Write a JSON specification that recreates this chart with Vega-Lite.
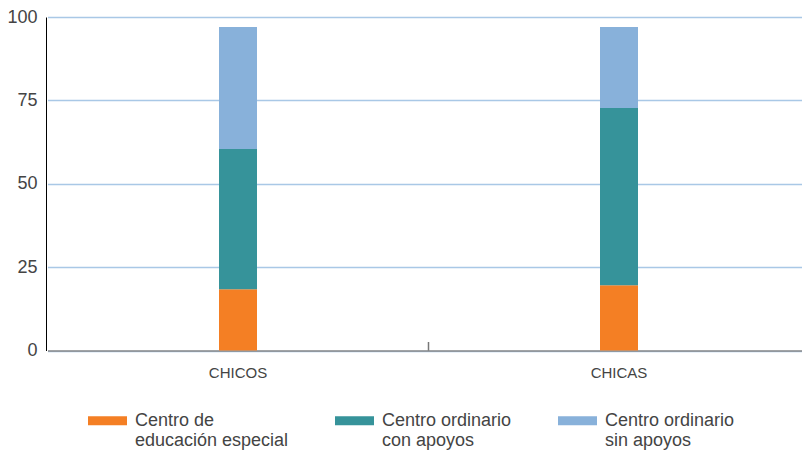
{
  "$schema": "https://vega.github.io/schema/vega-lite/v6.json",
  "autosize": {"type": "none"},
  "width": 754,
  "height": 333.5,
  "padding": {"left": 46, "top": 17, "right": 2, "bottom": 99.5},
  "config": {
    "view": {"stroke": null},
    "font": "Liberation Sans",
    "axis": {"labelColor": "#444444", "labelFont": "Liberation Sans"},
    "legend": {"labelColor": "#444444", "labelFont": "Liberation Sans"}
  },
  "data": {
    "values": [
      {"grupo": "CHICOS", "centro": "Centro de educación especial", "valor": 18.4},
      {"grupo": "CHICOS", "centro": "Centro ordinario con apoyos", "valor": 42.0},
      {"grupo": "CHICOS", "centro": "Centro ordinario sin apoyos", "valor": 36.6},
      {"grupo": "CHICAS", "centro": "Centro de educación especial", "valor": 19.6},
      {"grupo": "CHICAS", "centro": "Centro ordinario con apoyos", "valor": 53.1},
      {"grupo": "CHICAS", "centro": "Centro ordinario sin apoyos", "valor": 24.3}
    ]
  },
  "mark": {"type": "bar", "width": 38},
  "encoding": {
    "x": {
      "field": "grupo",
      "type": "nominal",
      "sort": ["CHICOS", "CHICAS"],
      "scale": {"range": [1.5, 763.5], "paddingInner": 0, "paddingOuter": 0},
      "axis": {
        "title": null,
        "labelAngle": 0,
        "labelFontSize": 15,
        "bandPosition": 0,
        "tickSize": -9,
        "tickWidth": 1.5,
        "tickColor": {"condition": {"test": "datum.value === 'CHICAS'", "value": "#777777"}, "value": "transparent"},
        "labelPadding": 24,
        "domainColor": "#888888",
        "domainWidth": 1.5
      }
    },
    "y": {
      "field": "valor",
      "type": "quantitative",
      "stack": "zero",
      "scale": {"domain": [0, 100], "nice": false},
      "axis": {
        "title": null,
        "values": [0, 25, 50, 75, 100],
        "ticks": false,
        "labelFontSize": 18,
        "labelPadding": 9,
        "domainColor": "#000000",
        "domainWidth": 1,
        "gridColor": "#a9c8e6",
        "gridWidth": 1.5
      }
    },
    "order": {"field": "centro", "sort": "ascending"},
    "color": {
      "field": "centro",
      "type": "nominal",
      "scale": {
        "domain": ["Centro de educación especial", "Centro ordinario con apoyos", "Centro ordinario sin apoyos"],
        "range": ["#f47f24", "#36939a", "#88b1da"]
      },
      "legend": {
        "title": null,
        "orient": "none",
        "direction": "horizontal",
        "legendX": 42,
        "legendY": 384,
        "padding": 0,
        "columnPadding": 46,
        "symbolType": "M-1,-0.23H1V0.23H-1Z",
        "symbolSize": 1521,
        "symbolStrokeWidth": 0,
        "symbolOpacity": 1,
        "labelFontSize": 18,
        "labelOffset": 8,
        "labelBaseline": "middle",
        "labelLimit": 300,
        "labelExpr": "datum.label == 'Centro de educación especial' ? ['Centro de', 'educación especial'] : datum.label == 'Centro ordinario con apoyos' ? ['Centro ordinario', 'con apoyos'] : ['Centro ordinario', 'sin apoyos']"
      }
    }
  }
}
